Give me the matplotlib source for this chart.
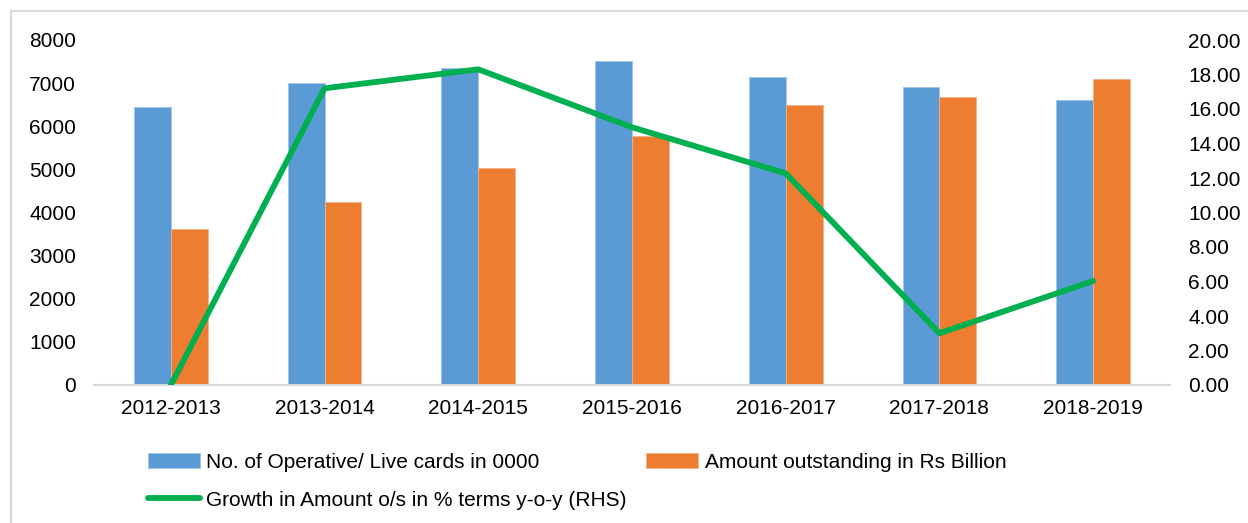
import numpy as np
import matplotlib
matplotlib.use("Agg")
import matplotlib.pyplot as plt
from matplotlib.lines import Line2D

plt.rcParams['font.family'] = ['Liberation Sans', 'DejaVu Sans']

# data
years = ["2012-2013", "2013-2014", "2014-2015", "2015-2016",
         "2016-2017", "2017-2018", "2018-2019"]
live_cards = [6453, 7003, 7351, 7520, 7142, 6910, 6616]       # in 0000
amount_os = [3617, 4243, 5025, 5781, 6485, 6678, 7088]        # Rs Billion
growth_pct = [0.0, 17.20, 18.30, 14.94, 12.27, 3.00, 6.03]    # y-o-y, RHS

BLUE = "#5b9bd5"
ORANGE = "#ed7d31"
GREEN = "#00b050"
FS = 15

fig = plt.figure(figsize=(12.48, 5.23), dpi=100)
ax = fig.add_axes([94 / 1248, 1 - 385 / 523, (1170 - 94) / 1248, 345 / 523])
ax2 = ax.twinx()

x = np.arange(len(years))
w = 0.24
ax.bar(x - w / 2, live_cards, w, color=BLUE, edgecolor="#9dc3e6", linewidth=0.6,
       label="No. of Operative/ Live cards in 0000", zorder=2)
ax.bar(x + w / 2, amount_os, w, color=ORANGE, edgecolor="#f4b183", linewidth=0.6,
       label="Amount outstanding in Rs Billion", zorder=2)
ax2.plot(x, growth_pct, color=GREEN, linewidth=4.2, solid_capstyle="round",
         label="Growth in Amount o/s in % terms y-o-y (RHS)")

ax.set_xlim(-0.5, len(years) - 0.5)
ax.set_ylim(0, 8000)
ax.set_yticks(np.arange(0, 8001, 1000))
ax2.set_ylim(0, 20)
ax2.set_yticks(np.arange(0, 20.01, 2))
ax2.set_yticklabels([f"{v:.2f}" for v in np.arange(0, 20.01, 2)])
ax.set_xticks(x)
ax.set_xticklabels(years)

for a in (ax, ax2):
    for s in a.spines.values():
        s.set_visible(False)
    a.tick_params(length=0, labelsize=FS, colors="#000000")
ax.spines["bottom"].set_visible(True)
ax.spines["bottom"].set_color("#d9d9d9")
ax.spines["bottom"].set_linewidth(1.5)
ax.tick_params(axis="y", pad=13)
ax.tick_params(axis="x", pad=10)
ax2.tick_params(axis="y", pad=13)

# legend: row 1 blue / orange, row 2 green
h1, l1 = ax.get_legend_handles_labels()
h2, l2 = ax2.get_legend_handles_labels()
fig.legend([h1[0], h2[0], h1[1]], [l1[0], l2[0], l1[1]], ncol=2,
           loc="upper left", bbox_to_anchor=(129 / 1248, 1 - 434 / 523),
           frameon=False, fontsize=FS, handlelength=2.5, handleheight=0.7,
           handletextpad=0.3, columnspacing=0.95, labelspacing=0.9)

# partial chart border, as in the crop
fig.add_artist(Line2D([11 / 1248, 11 / 1248], [0, 1 - 11 / 523],
                      transform=fig.transFigure, color="#d9d9d9", linewidth=1.5))
fig.add_artist(Line2D([11 / 1248, 1], [1 - 11 / 523, 1 - 11 / 523],
                      transform=fig.transFigure, color="#d9d9d9", linewidth=1.5))

fig.savefig("out.png", dpi=100)
